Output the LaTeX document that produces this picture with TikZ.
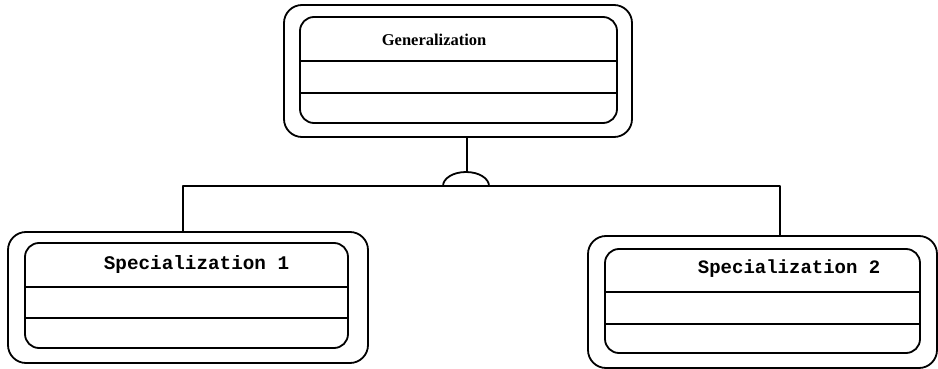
\documentclass[tikz,border=0pt]{standalone}
\usepackage{fontspec}
\newfontfamily\titlefont{Liberation Serif}
\newfontfamily\classfont{Liberation Mono}
\begin{document}
\begin{tikzpicture}[x=1pt, y=-1pt, line width=1.8pt, line join=round, line cap=round,
	outerbox/.style={draw, rounded corners=18pt, inner sep=0pt},
	innerbox/.style={draw, rounded corners=14pt, inner sep=0pt},
	divider/.style={line cap=butt},
	classname/.style={inner sep=0pt, anchor=base west}]
	\useasboundingbox (0,0) rectangle (938,369);
	% Lop cha
	\node[outerbox, minimum width=348pt, minimum height=132pt] (genout) at (458,71) {};
	\node[innerbox, minimum width=317pt, minimum height=106pt] (genin) at (458.5,70) {};
	\draw[divider] (genin.west |- 0,61) -- (genin.east |- 0,61);
	\draw[divider] (genin.west |- 0,93) -- (genin.east |- 0,93);
	\node[classname, font=\titlefont\bfseries\fontsize{16.5}{18}\selectfont] (gentitle) at (381,46) {Generalization};
	% Lop con 1
	\node[outerbox, minimum width=360pt, minimum height=131pt] (spec1out) at (188,297.5) {};
	\node[innerbox, minimum width=323pt, minimum height=105pt] (spec1in) at (186.5,295.5) {};
	\draw[divider] (spec1in.west |- 0,287) -- (spec1in.east |- 0,287);
	\draw[divider] (spec1in.west |- 0,318) -- (spec1in.east |- 0,318);
	\node[classname, font=\classfont\bfseries\fontsize{19.3}{21}\selectfont] (spec1title) at (103,269) {Specialization 1};
	% Lop con 2
	\node[outerbox, minimum width=349pt, minimum height=132pt] (spec2out) at (762.5,302) {};
	\node[innerbox, minimum width=315pt, minimum height=104pt] (spec2in) at (762.5,301) {};
	\draw[divider] (spec2in.west |- 0,292) -- (spec2in.east |- 0,292);
	\draw[divider] (spec2in.west |- 0,324) -- (spec2in.east |- 0,324);
	\node[classname, font=\classfont\bfseries\fontsize{19}{21}\selectfont] (spec2title) at (697,273) {Specialization 2};
	% Ky hieu tong quat hoa
	\coordinate (jn) at (466,186);
	\coordinate (arctop) at (467,172);
	\coordinate (lbend) at (183,186);
	\coordinate (rbend) at (780,186);
	\draw (genout.south -| arctop) -- (arctop);
	\draw (jn) ++(-23,0) arc[start angle=180, end angle=360, x radius=23, y radius=14];
	\draw (spec1out.north -| lbend) -- (lbend) -- (rbend) -- (spec2out.north -| rbend);
\end{tikzpicture}
\end{document}
